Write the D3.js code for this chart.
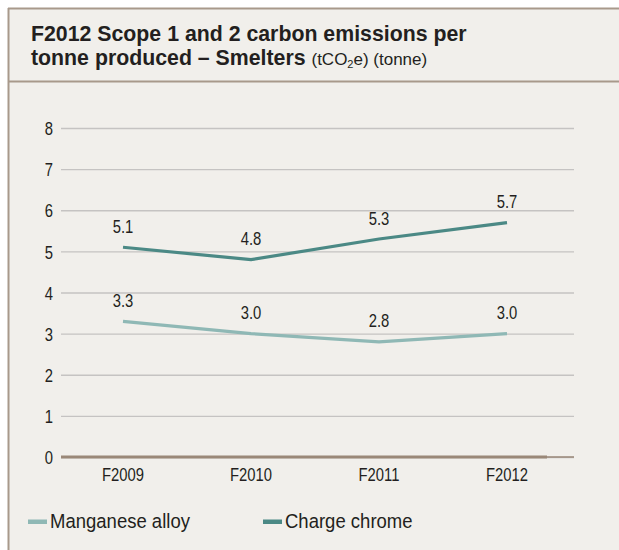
<!DOCTYPE html>
<html><head><meta charset="utf-8">
<script src="https://cdn.jsdelivr.net/npm/d3@7"></script>
<style>
html,body{margin:0;padding:0;background:#fff;}
svg{display:block;}
</style></head>
<body>
<svg id="chart" width="619" height="550"></svg>
<script>
const categories = ["F2009","F2010","F2011","F2012"];
const manganeseAlloy = [3.3, 3.0, 2.8, 3.0];
const chargeChrome = [5.1, 4.8, 5.3, 5.7];
const yTicks = [0,1,2,3,4,5,6,7,8];
const seriesNames = ["Manganese alloy","Charge chrome"];
const seriesColors = ["#8fb8b5","#4b8985"];

const font = "'Liberation Sans',Arial,sans-serif";
const narrow = 0.8;
const svg = d3.select("#chart");

// frame
svg.append("rect").attr("x",9).attr("y",9).attr("width",620).attr("height",560).attr("fill","#f1efeb");
svg.append("line").attr("x1",8).attr("x2",619).attr("y1",8.5).attr("y2",8.5).attr("stroke","#a8998b").attr("stroke-width",2);
svg.append("line").attr("x1",8.5).attr("x2",8.5).attr("y1",8).attr("y2",550).attr("stroke","#a8998b").attr("stroke-width",2);
svg.append("line").attr("x1",8).attr("x2",619).attr("y1",81.5).attr("y2",81.5).attr("stroke","#a8998b").attr("stroke-width",2);

// title
svg.append("text").attr("x",31).attr("y",41).attr("font-family",font).attr("fill","#231f20")
  .attr("font-size",21.3).attr("font-weight","bold").text("F2012 Scope 1 and 2 carbon emissions per");
const t2 = svg.append("text").attr("x",31).attr("y",64.5).attr("font-family",font).attr("fill","#231f20");
t2.append("tspan").attr("font-size",21.3).attr("font-weight","bold").text("tonne produced – Smelters ");
t2.append("tspan").attr("font-size",17).text("(tCO");
t2.append("tspan").attr("font-size",11).attr("dy",3).text("2");
t2.append("tspan").attr("font-size",17).attr("dy",-3).text("e) (tonne)");

const y = d3.scaleLinear().domain([0,8]).range([457,128]);
const x = d3.scaleBand().domain(categories).range([59,571]);
const cx = d => x(d) + x.bandwidth()/2;

// gridlines
const gridAxis = d3.axisLeft(y).tickValues(yTicks).tickSize(-513).tickPadding(8).tickFormat(d3.format("d"));
const g = svg.append("g").attr("transform","translate(61,0)").call(gridAxis);
g.select(".domain").remove();
g.selectAll(".tick line").attr("stroke","#c5c3c2").attr("stroke-width",1.3);
g.selectAll(".tick text").attr("font-family",font).attr("font-size",18.5).attr("fill","#231f20")
  .attr("dy","0.36em").attr("x",-8/narrow).attr("transform",`scale(${narrow},1)`);

// baseline
svg.append("line").attr("x1",61).attr("x2",574).attr("y1",y(0)).attr("y2",y(0)).attr("stroke","#9a8878").attr("stroke-width",1.5);
svg.append("line").attr("x1",61).attr("x2",547).attr("y1",y(0)).attr("y2",y(0)).attr("stroke","#9a8878").attr("stroke-width",3);

// x axis labels
const xAxis = d3.axisBottom(x).tickSize(0).tickPadding(11);
const xa = svg.append("g").attr("transform",`translate(0,${y(0)})`).call(xAxis);
xa.select(".domain").remove();
xa.selectAll(".tick text").attr("font-family",font).attr("font-size",18.5).attr("fill","#231f20")
  .attr("transform",`scale(${narrow},1)`);

// lines
const series = [manganeseAlloy, chargeChrome];
const line = d3.line().x((d,i)=>cx(categories[i])).y(d=>y(d));
series.forEach((vals,si)=>{
  svg.append("path").attr("d",line(vals)).attr("fill","none").attr("stroke",seriesColors[si]).attr("stroke-width",3.2);
  svg.selectAll(null).data(vals).enter().append("g")
    .attr("transform",(d,i)=>`translate(${cx(categories[i])},${y(d)-14.5})`)
    .append("text").attr("transform",`scale(${narrow},1)`)
    .attr("text-anchor","middle").attr("font-family",font).attr("font-size",18.5).attr("fill","#231f20")
    .text(d=>d.toFixed(1));
});

// legend
const legendX = [28, 263];
seriesNames.forEach((n,i)=>{
  svg.append("rect").attr("x",legendX[i]).attr("y",519.5).attr("width",19).attr("height",4.5).attr("fill",seriesColors[i]);
  svg.append("g").attr("transform",`translate(${legendX[i]+22},527.5)`)
    .append("text").attr("transform","scale(0.95,1)").attr("font-family",font).attr("font-size",19.5).attr("fill","#231f20").text(n);
});
</script>
</body></html>
